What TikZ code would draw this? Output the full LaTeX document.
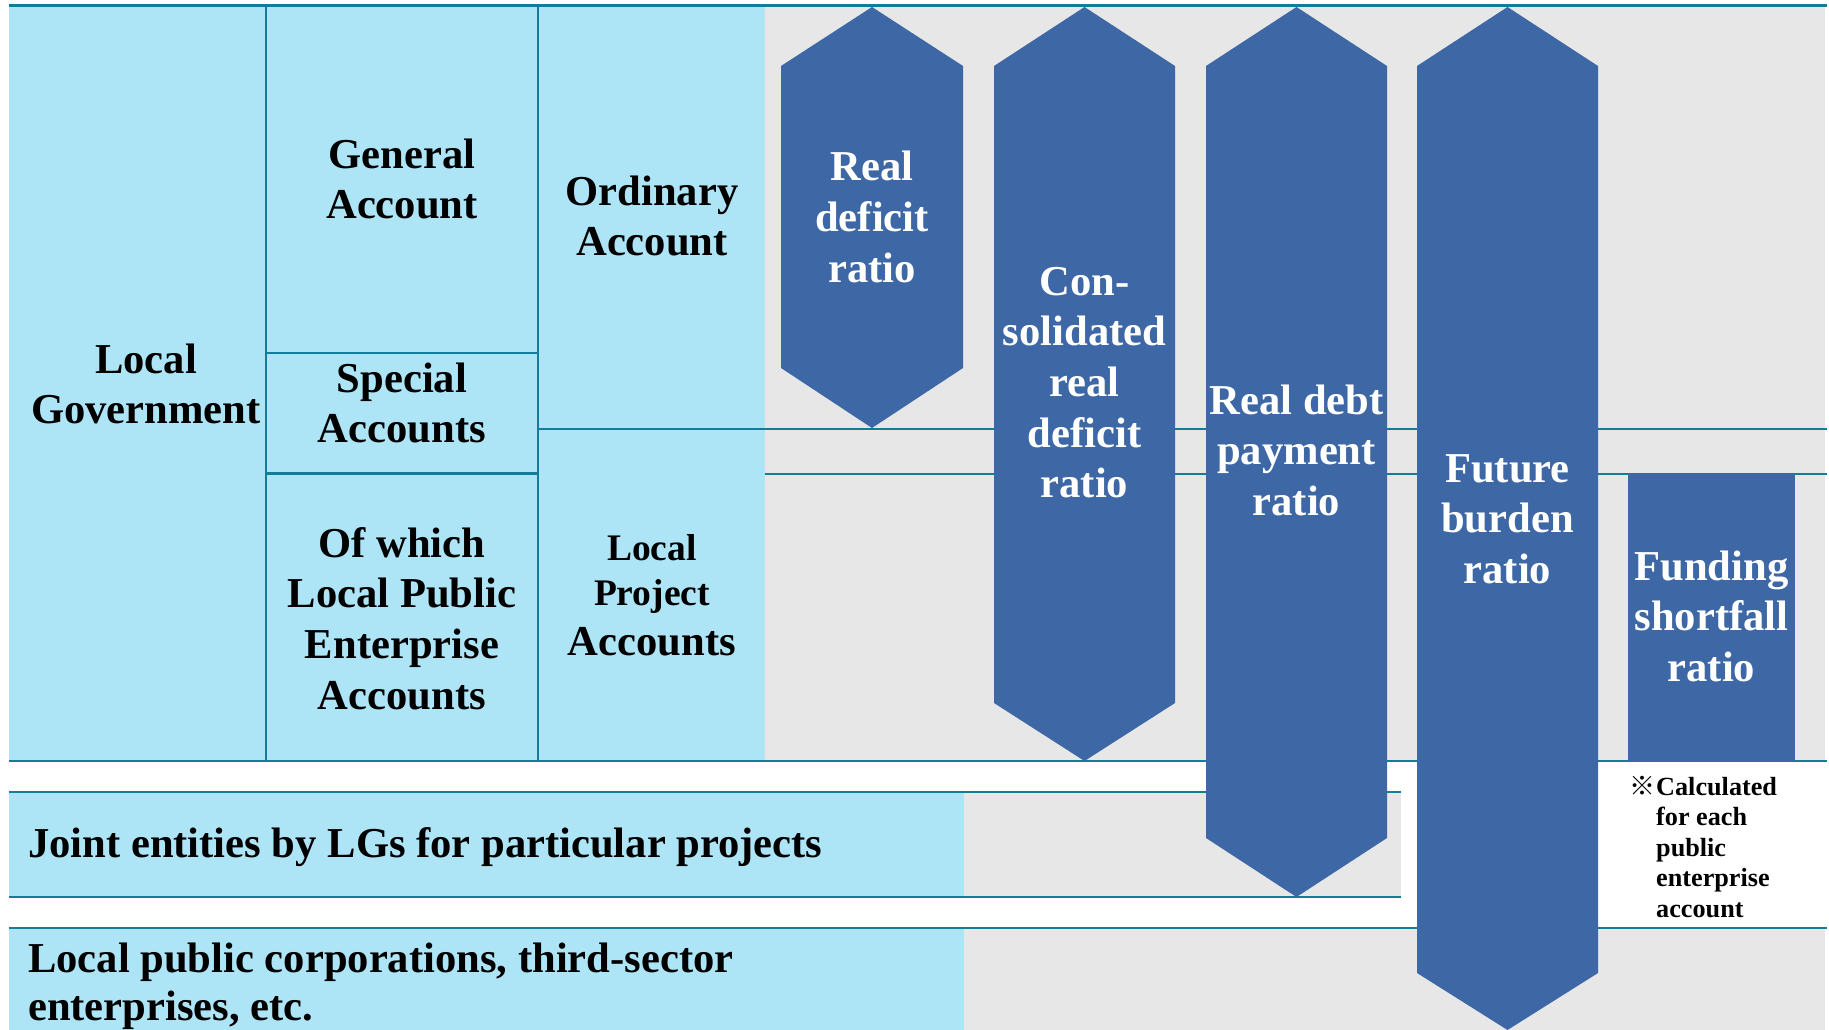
\documentclass[tikz,border=0pt]{standalone}
\usepackage{fontspec}
\setmainfont{Liberation Serif}
\newfontfamily\cjkfont{Noto Sans CJK JP}
\definecolor{lblue}{RGB}{174,229,246}
\definecolor{lgray}{RGB}{231,231,231}
\definecolor{dblue}{RGB}{62,104,165}
\definecolor{tealline}{RGB}{16,125,153}
\newcommand{\mlc}[1]{\begin{tabular}[t]{@{}c@{}}#1\end{tabular}}
\newcommand{\mll}[1]{\begin{tabular}[t]{@{}l@{}}#1\end{tabular}}
\tikzset{
  sep/.style={draw=tealline, line width=2.8pt},
  vsep/.style={draw=tealline, line width=2.2pt},
  lbl/.style={anchor=base, inner sep=0pt, font=\bfseries\fontsize{42.6}{50.7}\selectfont},
  lblw/.style={lbl, text=white},
  lbll/.style={anchor=base west, inner sep=0pt, font=\bfseries\fontsize{42.6}{48}\selectfont},
  notef/.style={anchor=base west, inner sep=0pt, font=\bfseries\fontsize{26.2}{30.5}\selectfont},
  hexa/.style={fill=dblue}
}
\begin{document}
\begin{tikzpicture}[x=1pt,y=-1pt]
\useasboundingbox (0,0) rectangle (1829,1030);
\fill[white] (0,0) rectangle (1829,1030);
% background regions
\fill[lblue] (9,5) rectangle (765,761);
\fill[lgray] (765,5) rectangle (1825,761);
\fill[lblue] (9,792) rectangle (964,897);
\fill[lgray] (964,792) rectangle (1401,897);
\fill[lblue] (9,928) rectangle (964,1030);
\fill[lgray] (964,928) rectangle (1825,1030);
% separators
\draw[sep] (9,5.5) -- (1827,5.5);
\draw[vsep] (266,5) -- (266,761);
\draw[vsep] (538,5) -- (538,761);
\draw[sep] (266,353) -- (538,353);
\draw[sep] (266,473.5) -- (538,473.5);
\draw[sep] (538,429) -- (1827,429);
\draw[sep] (765,474) -- (1827,474);
\draw[sep] (9,761) -- (1827,761);
\draw[sep] (9,792) -- (1401,792);
\draw[sep] (9,897) -- (1401,897);
\draw[sep] (9,928) -- (1827,928);
% ratio shapes
\fill[hexa] (781,66) -- (872,7) -- (963,66) -- (963,368) -- (872,428) -- (781,368) -- cycle;
\fill[hexa] (994,66) -- (1084.5,7) -- (1175,66) -- (1175,703) -- (1084.5,761) -- (994,703) -- cycle;
\fill[hexa] (1206,66) -- (1296.5,7) -- (1387,66) -- (1387,838) -- (1296.5,897) -- (1206,838) -- cycle;
\fill[hexa] (1417,66) -- (1507.5,7) -- (1598,66) -- (1598,973) -- (1507.5,1030) -- (1417,973) -- cycle;
\fill[hexa] (1628,474) rectangle (1795,761);
% left labels
\node[lbl] (lg) at (146,373) {\mlc{Local\\Government}};
\node[lbl] (ga) at (402,168) {\mlc{General\\Account}};
\node[lbl] (sa) at (402,392) {\mlc{Special\\Accounts}};
\node[lbl] (oa) at (652,205) {\mlc{Ordinary\\Account}};
\node[lbl] (lpe) at (402,557) {\mlc{Of which\\Local Public\\Enterprise\\Accounts}};
\node[lbl, font=\bfseries\fontsize{37.5}{45}\selectfont] (lpa) at (652,560) {\mlc{Local\\Project}};
\node[lbl] (lpa2) at (652,655) {Accounts};
\node[lbll] (je) at (28,857) {Joint entities by LGs for particular projects};
\node[lbll] (lpc) at (28,972) {\mll{Local public corporations, third-sector\\enterprises, etc.}};
% ratio labels
\node[lblw] (r1) at (872,181) {\mlc{Real\\deficit\\ratio}};
\node[lblw] (r2) at (1084.5,295) {\mlc{Con-\\solidated\\real\\deficit\\ratio}};
\node[lblw] (r3) at (1296.5,414) {\mlc{Real debt\\payment\\ratio}};
\node[lblw] (r4) at (1507.5,482) {\mlc{Future\\burden\\ratio}};
\node[lblw] (r5) at (1711.5,580) {\mlc{Funding\\shortfall\\ratio}};
% note
\node[anchor=base east, inner sep=0pt, font=\fontsize{26}{30.5}\selectfont\cjkfont] (nm) at (1656,795) {※};
\node[notef] (nt) at (1656,795) {\mll{Calculated\\for each\\public\\enterprise\\account}};
\end{tikzpicture}
\end{document}
